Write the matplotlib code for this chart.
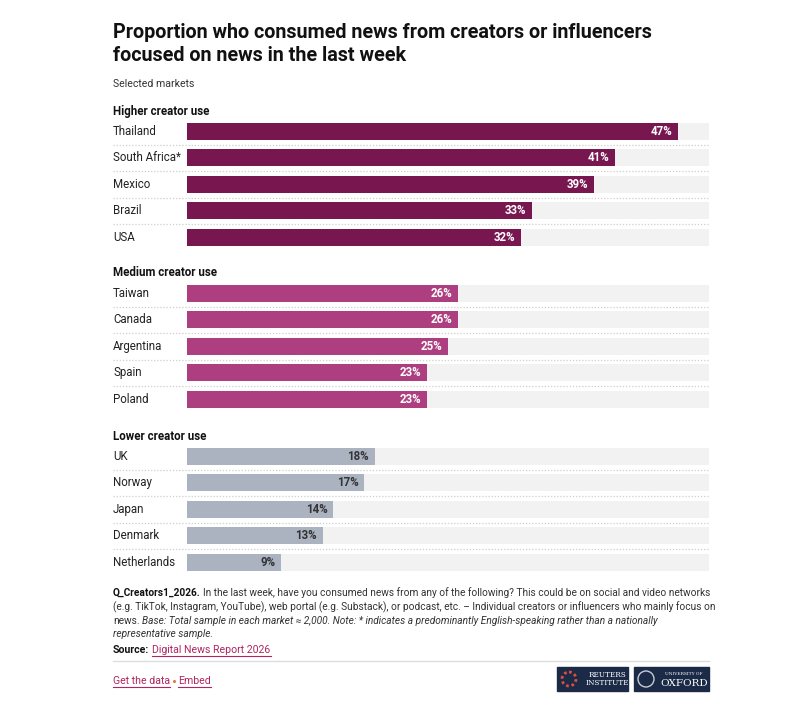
import matplotlib.pyplot as plt
from matplotlib.patches import Rectangle

# Datos
grupos = ["Higher creator use", "Medium creator use", "Lower creator use"]
paises = [
    ["Thailand", "South Africa*", "Mexico", "Brazil", "USA"],
    ["Taiwan", "Canada", "Argentina", "Spain", "Poland"],
    ["UK", "Norway", "Japan", "Denmark", "Netherlands"],
]
valores = [
    [47, 41, 39, 33, 32],
    [26, 26, 25, 23, 23],
    [18, 17, 14, 13, 9],
]
colores = ["#781650", "#ad3f80", "#abb3c1"]
color_etiqueta = ["white", "white", "#333333"]

titulo = "Proportion who consumed news from creators or influencers\nfocused on news in the last week"
subtitulo = "Selected markets"

FUENTE = ["Roboto", "DejaVu Sans"]
plt.rcParams["font.family"] = FUENTE

W, H = 810, 712
fig = plt.figure(figsize=(W / 100, H / 100), dpi=100)

# Capa de fondo en pixeles para textos de maqueta
lay = fig.add_axes([0, 0, 1, 1])
lay.set_xlim(0, W)
lay.set_ylim(H, 0)
lay.axis("off")

# Ejes de las barras
x0, x1 = 187, 709
y_top, y_bot = 100, 580
ax = fig.add_axes([x0 / W, 1 - y_bot / H, (x1 - x0) / W, (y_bot - y_top) / H])
ax.set_xlim(0, 50)
ax.set_ylim(y_bot, y_top)
ax.axis("off")

paso = 26.4
cabeceras_y = [111, 273, 436]
alto = 17
x_lab = (113 - x0) / (x1 - x0)
tr = ax.get_yaxis_transform()

for g, nombre in enumerate(grupos):
    yc = cabeceras_y[g]
    ax.text(x_lab, yc, nombre, transform=tr, fontsize=8.3, weight="bold",
            color="#111111", va="center", ha="left")
    for i, (p, v) in enumerate(zip(paises[g], valores[g])):
        y = yc + 20.5 + i * paso
        ax.barh(y, 50, height=alto, color="#f2f2f2", zorder=1)
        ax.barh(y, v, height=alto, color=colores[g], zorder=2)
        ax.text(v - 0.55, y, f"{v}%", fontsize=8.3, weight="bold",
                color=color_etiqueta[g], ha="right", va="center", zorder=3)
        ax.text(x_lab, y, p, transform=tr, fontsize=8.3, color="#222222",
                va="center", ha="left")
        if i < len(paises[g]) - 1:
            ax.plot([x_lab, 1], [y + paso / 2] * 2, transform=tr, color="#cfcfcf",
                    lw=0.9, ls=(0, (1, 1.5)), clip_on=False)

# Titulo y subtitulo
lay.text(113, 44, titulo, fontsize=14.2, weight="bold", color="#111111",
         va="center", ha="left", linespacing=1.3)
lay.text(113, 84, subtitulo, fontsize=7.6, color="#333333", va="center", ha="left")

fig.canvas.draw()
rend = fig.canvas.get_renderer()


def escribir(x, y, partes, size=7.3, color="#333333"):
    # Escribe trozos de texto seguidos con distintos estilos
    for texto, peso, estilo, col, hueco in partes:
        t = lay.text(x, y, texto, fontsize=size, weight=peso, style=estilo,
                     color=col or color, va="center", ha="left")
        bb = t.get_window_extent(renderer=rend)
        x += bb.width + hueco
    return x


def subrayar(t, col):
    bb = t.get_window_extent(renderer=rend)
    inv = lay.transData.inverted()
    (a, b), (c, d) = inv.transform([[bb.x0, bb.y0], [bb.x1, bb.y1]])
    lay.plot([a, c], [b + 1, b + 1], color=col, lw=0.8)


n, b, i_ = "normal", "bold", "italic"
escribir(113, 593, [("Q_Creators1_2026.", b, n, "#111111", 2.5),
                    ("In the last week, have you consumed news from any of the following? This could be on social and video networks", n, n, None, 0)])
escribir(113, 607, [("(e.g. TikTok, Instagram, YouTube), web portal (e.g. Substack), or podcast, etc. – Individual creators or influencers who mainly focus on", n, n, None, 0)])
escribir(113, 621, [("news.", n, n, None, 3),
                    ("Base: Total sample in each market ≈ 2,000. Note: * indicates a predominantly English-speaking rather than a nationally", n, i_, None, 0)])
escribir(113, 634, [("representative sample.", n, i_, None, 0)])

rosa = "#b0255f"
xs = escribir(113, 650, [("Source:", b, n, "#111111", 3)], size=7.6)
t = lay.text(xs, 650, "Digital News Report 2026", fontsize=7.6, color=rosa, va="center", ha="left")
subrayar(t, rosa)

lay.plot([113, 709], [661, 661], color="#dddddd", lw=1)

t1 = lay.text(113, 681, "Get the data", fontsize=7.6, color=rosa, va="center", ha="left")
subrayar(t1, rosa)
xg = t1.get_window_extent(renderer=rend).x1
lay.plot([xg + 4], [681], marker="o", ms=2.2, color="#e07a30", mew=0)
t3 = lay.text(xg + 8, 681, "Embed", fontsize=7.6, color=rosa, va="center", ha="left")
subrayar(t3, rosa)

# Logos
navy = "#1b2a47"
lay.add_patch(Rectangle((557, 667), 71, 24, color=navy))
lay.add_patch(Rectangle((634, 667), 75, 24, color=navy))
lay.text(607, 679, "REUTERS\nINSTITUTE", family="DejaVu Serif", fontsize=5.2,
         color="white", ha="center", va="center", linespacing=0.95)
lay.add_patch(plt.Circle((569, 679), 7, fill=False, ec="#d94f3d", lw=2, ls=(0, (1, 1))))
lay.text(684, 674, "UNIVERSITY OF", family="DejaVu Serif", fontsize=3.2,
         color="white", ha="center", va="center")
lay.text(684, 684, "OXFORD", family="DejaVu Serif", fontsize=7.5,
         color="white", ha="center", va="center")
lay.add_patch(plt.Circle((646, 679), 8, fill=False, ec="#c8ccd6", lw=1))

fig.savefig("out.png", dpi=100)
